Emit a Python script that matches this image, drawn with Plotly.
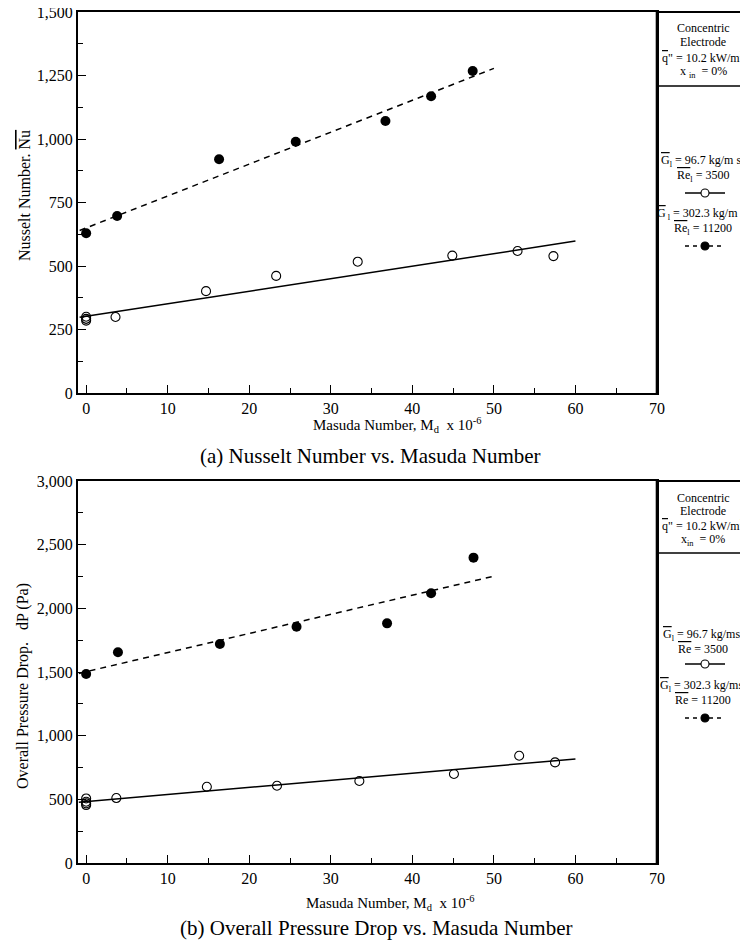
import plotly.graph_objects as go

# ---------------- data ----------------
# (a) Nusselt number
nu_open_x = [0, 0, 0, 3.6, 14.7, 23.3, 33.3, 44.9, 52.9, 57.3]
nu_open_y = [300, 292, 285, 299, 401, 461, 517, 541, 559, 539]
nu_fill_x = [0, 3.8, 16.3, 25.7, 36.7, 42.3, 47.4]
nu_fill_y = [629, 697, 920, 989, 1071, 1168, 1268]
nu_fit_open_x = [-0.8, 60]
nu_fit_open_y = [298, 598]
nu_fit_fill_x = [-0.8, 50]
nu_fit_fill_y = [640, 1278]

# (b) Pressure drop
dp_open_x = [0, 0, 0, 0, 3.7, 14.8, 23.4, 33.5, 45.1, 53.1, 57.5]
dp_open_y = [507, 481, 468, 455, 510, 599, 607, 644, 699, 842, 790]
dp_fill_x = [0, 3.9, 16.4, 25.8, 36.9, 42.3, 47.5]
dp_fill_y = [1484, 1655, 1720, 1856, 1882, 2118, 2398]
dp_fit_open_x = [-0.9, 60]
dp_fit_open_y = [477, 817]
dp_fit_fill_x = [-0.9, 50]
dp_fit_fill_y = [1489, 2253]

x_ticks = [0, 10, 20, 30, 40, 50, 60, 70]
nu_ticks = [0, 250, 500, 750, 1000, 1250, 1500]
dp_ticks = [0, 500, 1000, 1500, 2000, 2500, 3000]

# ---------------- layout geometry ----------------
# page has an 8px body margin, so the figure is drawn 8px smaller / shifted
OFF = 8
W, H = 748 - OFF, 941 - OFF
L, R, T, B = 78, 657, 12, 863   # plot area in page pixels (reference)


def px(x):
    return (x - L) / (R - L)


def py(y):
    return (B - y) / (B - T)


FONT = "Liberation Serif"
OL = '<span style="text-decoration:overline">%s</span>'

fig = go.Figure()


def add_series(xa, ya, ox, oy, fx, fy, lox, loy, lfx, lfy):
    fig.add_trace(go.Scatter(x=lox, y=loy, mode="lines", xaxis=xa, yaxis=ya,
                             line=dict(color="black", width=1.5), showlegend=False))
    fig.add_trace(go.Scatter(x=lfx, y=lfy, mode="lines", xaxis=xa, yaxis=ya,
                             line=dict(color="black", width=1.5, dash="6px,5px"), showlegend=False))
    fig.add_trace(go.Scatter(x=ox, y=oy, mode="markers", xaxis=xa, yaxis=ya,
                             marker=dict(symbol="circle-open", size=9, color="black",
                                         line=dict(width=1.1)), showlegend=False))
    fig.add_trace(go.Scatter(x=fx, y=fy, mode="markers", xaxis=xa, yaxis=ya,
                             marker=dict(symbol="circle", size=10, color="black"), showlegend=False))


add_series("x", "y", nu_open_x, nu_open_y, nu_fill_x, nu_fill_y,
           nu_fit_open_x, nu_fit_open_y, nu_fit_fill_x, nu_fit_fill_y)
add_series("x2", "y2", dp_open_x, dp_open_y, dp_fill_x, dp_fill_y,
           dp_fit_open_x, dp_fit_open_y, dp_fit_fill_x, dp_fit_fill_y)

tickfont = dict(family=FONT, size=16, color="black")


def xax(anchor):
    return dict(range=[-1, 70], tickvals=x_ticks, ticktext=[str(v) for v in x_ticks],
                ticks="inside", ticklen=8, tickwidth=1.2, tickcolor="black",
                minor=dict(dtick=5, tick0=0, ticks="inside", ticklen=5, tickwidth=1, tickcolor="black"),
                showline=True, linecolor="black", linewidth=2, mirror=True,
                showgrid=False, zeroline=False, tickfont=tickfont, anchor=anchor,
                ticklabeloverflow="allow", domain=[0, 1])


def yax(anchor, rng, tv, minor, dom):
    return dict(range=rng, tickvals=tv, ticktext=[f"{v:,}" for v in tv],
                ticks="inside", ticklen=8, tickwidth=1.2, tickcolor="black",
                minor=dict(dtick=minor, tick0=0, ticks="inside", ticklen=5, tickwidth=1, tickcolor="black"),
                showline=True, linecolor="black", linewidth=2, mirror=True,
                showgrid=False, zeroline=False, tickfont=tickfont, anchor=anchor,
                ticklabeloverflow="allow", domain=dom)


fig.update_layout(
    width=W, height=H,
    margin=dict(l=L - OFF, r=W - (R - OFF), t=T - OFF, b=H - (B - OFF), autoexpand=False),
    paper_bgcolor="white", plot_bgcolor="white",
    xaxis=xax("y"),
    yaxis=yax("x", [0, 1500], nu_ticks, 125, [py(393), 1]),
    xaxis2=xax("y2"),
    yaxis2=yax("x2", [0, 3000], dp_ticks, 250, [0, py(481)]),
    showlegend=False,
)

shapes = []
annots = []


def hline(x0, x1, y, w=2):
    shapes.append(dict(type="line", xref="paper", yref="paper", x0=px(x0), x1=px(x1),
                       y0=py(y), y1=py(y), line=dict(color="black", width=w)))


def vline(x, y0, y1, w=2.6):
    shapes.append(dict(type="line", xref="paper", yref="paper", x0=px(x), x1=px(x),
                       y0=py(y0), y1=py(y1), line=dict(color="black", width=w)))


def text(x, y, s, size=11, angle=0, xanchor="center"):
    annots.append(dict(x=px(x), y=py(y), xref="paper", yref="paper", text=s, showarrow=False,
                       xanchor=xanchor, yanchor="middle", textangle=angle,
                       font=dict(family=FONT, size=size, color="black")))


SX0, SX1, SC = 685, 725, 705


def symbol(y, filled):
    shapes.append(dict(type="line", xref="paper", yref="paper", x0=px(SX0), x1=px(SX1),
                       y0=py(y), y1=py(y),
                       line=dict(color="black", width=1.3, dash="4px,4px" if filled else "solid")))
    shapes.append(dict(type="circle", xref="paper", yref="paper", xsizemode="pixel", ysizemode="pixel",
                       xanchor=px(SC), yanchor=py(y), x0=-4, x1=4, y0=-4, y1=4,
                       fillcolor="black" if filled else "white",
                       line=dict(color="black", width=1.1)))


CX = 703
LF = 12
# ---- legend box (a)
hline(R, 760, T)
vline(R, T, 393)
hline(R, 760, 86, 1.5)
text(CX, 28, "Concentric", LF)
text(CX, 42, "Electrode", LF)
text(CX, 57, OL % "q" + '" = 10.2 kW/m<sup>2</sup>', LF)
text(CX, 72, "x <sub>in</sub>  = 0%", LF)
text(CX, 160, OL % "G" + "<sub>l</sub> = 96.7 kg/m s<sup>2</sup>", LF)
text(CX, 176, OL % "Re" + "<sub>l</sub> = 3500", LF)
symbol(193, False)
text(CX, 214, OL % "G" + "<sub> l</sub> = 302.3 kg/m s<sup>2</sup>", LF)
text(CX, 229, OL % "Re" + "<sub>l</sub> = 11200", LF)
symbol(246, True)

# ---- legend box (b)
hline(R, 760, 481)
vline(R, 481, 863)
hline(R, 760, 553, 1.5)
text(CX, 498, "Concentric", LF)
text(CX, 511, "Electrode", LF)
text(CX, 525, OL % "q" + '" = 10.2 kW/m<sup>2</sup>', LF)
text(CX, 540, "x<sub>in</sub>  = 0%", LF)
text(CX, 634, OL % "G" + "<sub>l</sub> = 96.7 kg/ms<sup>2</sup>", LF)
text(CX, 649, OL % "Re" + " = 3500", LF)
symbol(664, False)
text(CX, 685, OL % "G" + "<sub>l</sub> = 302.3 kg/ms<sup>2</sup>", LF)
text(CX, 700, OL % "Re" + " = 11200", LF)
symbol(718, True)

# ---- axis titles & captions
text(24, 196, "Nusselt Number. " + OL % "Nu", size=16, angle=-90)
text(23, 686, "Overall Pressure Drop.   dP (Pa)", size=16, angle=-90)
text(397, 425, "Masuda Number, M<sub>d</sub>  x 10<sup>-6</sup>", size=15)
text(390, 903, "Masuda Number, M<sub>d</sub>  x 10<sup>-6</sup>", size=15)
text(370, 456, "(a) Nusselt Number vs. Masuda Number", size=21)
text(376, 928, "(b) Overall Pressure Drop vs. Masuda Number", size=21)

fig.update_layout(shapes=shapes, annotations=annots)
fig.write_html("out.html")
